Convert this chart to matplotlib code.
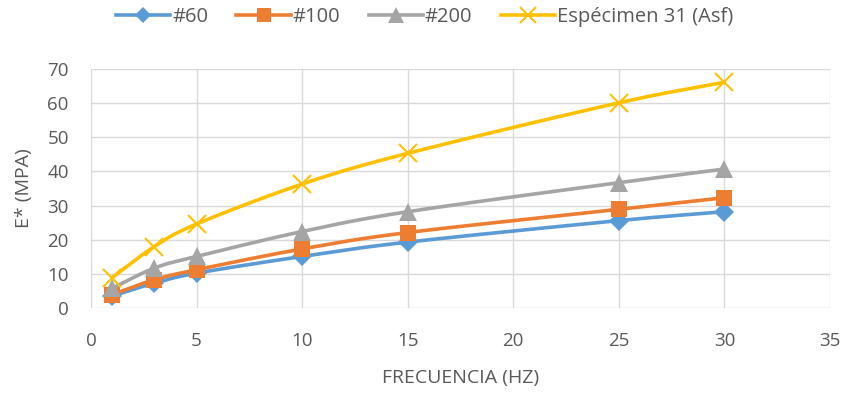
import numpy as np
import matplotlib.pyplot as plt

# Frecuencias de ensayo y módulo dinámico por gradación
freq = [1, 3, 5, 10, 15, 25, 30]
e_60 = [3.5, 7.3, 10.2, 15.1, 19.3, 25.6, 28.2]
e_100 = [3.9, 8.3, 11.2, 17.3, 22.1, 28.9, 32.3]
e_200 = [5.8, 11.7, 15.1, 22.4, 28.2, 36.7, 40.7]
e_asf = [8.9, 18.0, 24.6, 36.3, 45.3, 60.1, 66.1]

labels = ['#60', '#100', '#200', 'Espécimen 31 (Asf)']
colors = ['#5B9BD5', '#ED7D31', '#A5A5A5', '#FFC000']
markers = ['D', 's', '^', 'x']
msizes = [10, 12, 13, 13]


def smooth(x, y, n=30):
    # curva suavizada tipo Catmull-Rom que pasa por cada punto
    x = np.asarray(x, float)
    y = np.asarray(y, float)
    px = np.concatenate([[2 * x[0] - x[1]], x, [2 * x[-1] - x[-2]]])
    py = np.concatenate([[2 * y[0] - y[1]], y, [2 * y[-1] - y[-2]]])
    xs, ys = [], []
    t = np.linspace(0, 1, n)
    for i in range(1, len(px) - 2):
        for p, out in ((px, xs), (py, ys)):
            p0, p1, p2, p3 = p[i - 1], p[i], p[i + 1], p[i + 2]
            m1 = (p2 - p0) / 6
            m2 = (p3 - p1) / 6
            b = ((1 - t) ** 3 * p1 + 3 * (1 - t) ** 2 * t * (p1 + m1)
                 + 3 * (1 - t) * t ** 2 * (p2 - m2) + t ** 3 * p2)
            out.extend(b)
    return xs, ys


plt.rcParams['font.family'] = ['Open Sans', 'DejaVu Sans']
txt = '#595959'

fig = plt.figure(figsize=(8.49, 3.93), dpi=100)
ax = fig.add_axes([91 / 849, 1 - 308 / 393, (830 - 91) / 849, (308 - 69) / 393])

for ys, lab, c, m, ms in zip([e_60, e_100, e_200, e_asf], labels, colors, markers, msizes):
    sx, sy = smooth(freq, ys)
    mew = 1.5 if m == 'x' else 0
    ax.plot(sx, sy, color=c, lw=2.6, solid_capstyle='round')
    ax.plot(freq, ys, linestyle='none', marker=m, color=c, markersize=ms,
            markeredgewidth=mew)
    ax.plot([], [], color=c, lw=2.6, marker=m, markersize=ms * 0.85,
            markeredgewidth=mew, label=lab)

ax.set_xlim(0, 35)
ax.set_ylim(0, 70)
ax.set_xticks(range(0, 36, 5))
ax.set_yticks(range(0, 71, 10))
ax.grid(True, color='#D9D9D9', lw=1)
ax.set_axisbelow(True)
for s in ax.spines.values():
    s.set_visible(False)
ax.tick_params(length=0, labelsize=13.5, colors=txt)
ax.tick_params(axis='x', pad=17)
ax.tick_params(axis='y', pad=16)
ax.set_xlabel('FRECUENCIA (HZ)', fontsize=14, color=txt, labelpad=14)
ax.set_ylabel('E* (MPA)', fontsize=14, color=txt, labelpad=10)

fig.legend(loc='center', bbox_to_anchor=(0.5, 1 - 17 / 393), ncol=4, frameon=False,
           fontsize=14.5, labelcolor=txt, handlelength=2.7, columnspacing=1.4,
           handletextpad=0.1)

fig.savefig('out.png', dpi=100)
